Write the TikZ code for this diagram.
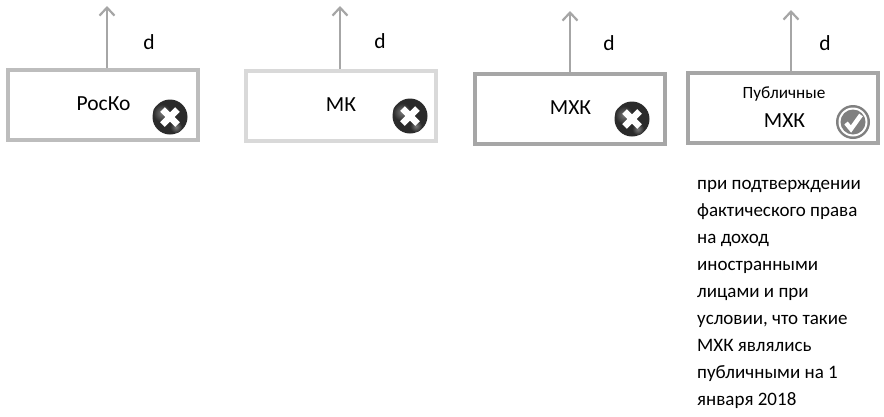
\documentclass[tikz,border=0pt]{standalone}
\usepackage{fontspec}
\setmainfont{Carlito}
\usetikzlibrary{arrows.meta,shadings}
\definecolor{arrowgray}{HTML}{A6A6A6}
\definecolor{balldark}{HTML}{2B2B2B}
\definecolor{balllight}{HTML}{7A7A7A}
\tikzset{
  x=1pt,y=-1pt,
  orgbox/.style={draw=#1,line width=4pt,rectangle,minimum width=190pt,minimum height=70pt,inner sep=0pt,fill=white},
  uparrow/.style={draw=arrowgray,line width=2.4pt,-{Straight Barb[length=8pt,width=15pt,line width=2.2pt]}},
  lbl/.style={font=\fontsize{21.5}{26}\selectfont,text=black,inner sep=0pt},
  dlbl/.style={font=\fontsize{21.5}{26}\selectfont,text=black,inner sep=0pt,draw=none},
  small/.style={font=\fontsize{17.2}{20}\selectfont,text=black,inner sep=0pt},
  pics/nobadge/.style={code={
    \fill[balldark] (0,0) circle (17.5pt);
    \shade[inner color=balllight,outer color=balldark] (-8,-4) circle (9pt);
    \shade[inner color=balllight,outer color=balldark] (6,10) circle (6pt);
    \draw[white,line width=6.5pt] (-7.5,-7.5) -- (7.5,7.5) (-7.5,7.5) -- (7.5,-7.5);
  }},
  pics/yesbadge/.style={code={
    \fill[black!50] (0,0) circle (17pt);
    \fill[white] (0,0) circle (14.5pt);
    \fill[black!50] (0,0) circle (12.5pt);
    \draw[white,line width=4.5pt] (-7,1) -- (-2,7) -- (8,-7);
  }}
}
\begin{document}
\begin{tikzpicture}
\useasboundingbox (0,0) rectangle (884,416);
\node[orgbox=black!26] (a) at (103,105) {};
\node[orgbox=black!15] (b) at (340.5,106) {};
\node[orgbox=arrowgray] (c) at (570,108.5) {};
\node[orgbox=arrowgray] (e) at (782.5,108) {};
\coordinate (at) at (107,6);
\coordinate (bt) at (340,6);
\coordinate (ct) at (570,11);
\coordinate (et) at (791,10);
\draw[uparrow] (a.north -| at) -- (at);
\draw[uparrow] (b.north -| bt) -- (bt);
\draw[uparrow] (c.north -| ct) -- (ct);
\draw[uparrow] (e.north -| et) -- (et);
\node[dlbl] (d1) at (149,42) {d};
\node[dlbl] (d2) at (380,41) {d};
\node[dlbl] (d3) at (609,43) {d};
\node[dlbl] (d4) at (825,43) {d};
\node[lbl] (t1) at (103.5,104) {РосКо};
\node[lbl] (t2) at (341,105) {МК};
\node[lbl] (t3) at (570.5,108) {МХК};
\node[small] (t4a) at (784,94) {Публичные};
\node[lbl] (t4b) at (784.5,121) {МХК};
\pic at (170,117) {nobadge};
\pic at (410,116) {nobadge};
\pic at (632,119) {nobadge};
\pic at (853,122) {yesbadge};
\node[lbl,anchor=north west,align=left,font=\fontsize{19}{27}\selectfont] (note) at (697,180)
{при подтверждении\\фактического права\\на доход\\иностранными\\лицами и при\\условии, что такие\\МХК являлись\\публичными на 1\\января 2018};
\end{tikzpicture}
\end{document}
